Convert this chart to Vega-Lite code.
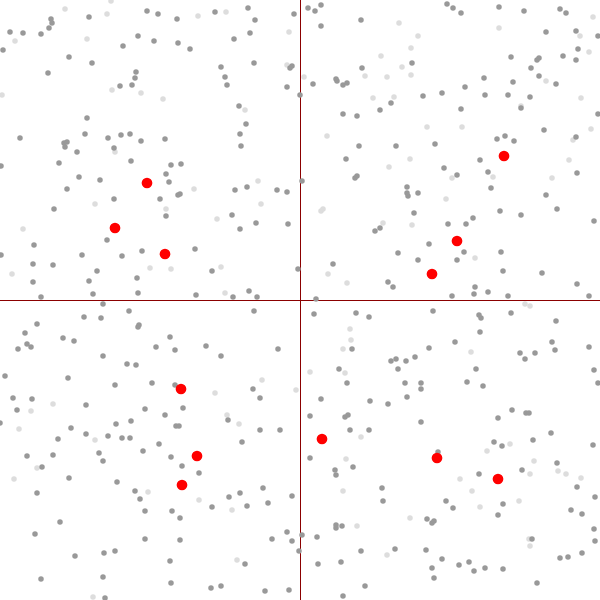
{
"$schema":"https://vega.github.io/schema/vega-lite/v6.json",
"width":600,"height":600,"padding":0,
"autosize":{"type":"none"},
"config":{"view":{"stroke":null}},
"datasets":{
"light":[{"x":111,"y":1},{"x":65,"y":9},{"x":107,"y":14},{"x":198,"y":16},{"x":15,"y":41},{"x":87,"y":39},{"x":112,"y":90},{"x":141,"y":93},{"x":163,"y":99},{"x":2,"y":95},{"x":115,"y":152},{"x":194,"y":189},{"x":226,"y":12},{"x":289,"y":32},{"x":399,"y":23},{"x":381,"y":56},{"x":287,"y":65},{"x":304,"y":77},{"x":365,"y":76},{"x":387,"y":77},{"x":373,"y":98},{"x":394,"y":97},{"x":245,"y":110},{"x":327,"y":136},{"x":389,"y":167},{"x":258,"y":181},{"x":418,"y":36},{"x":411,"y":48},{"x":402,"y":67},{"x":411,"y":75},{"x":499,"y":28},{"x":593,"y":17},{"x":580,"y":36},{"x":589,"y":52},{"x":546,"y":81},{"x":581,"y":98},{"x":521,"y":106},{"x":427,"y":127},{"x":462,"y":127},{"x":591,"y":129},{"x":573,"y":140},{"x":410,"y":159},{"x":569,"y":160},{"x":452,"y":178},{"x":493,"y":177},{"x":552,"y":178},{"x":446,"y":199},{"x":95,"y":204},{"x":166,"y":209},{"x":23,"y":229},{"x":12,"y":274},{"x":150,"y":268},{"x":171,"y":269},{"x":261,"y":204},{"x":217,"y":219},{"x":321,"y":211},{"x":323,"y":209},{"x":383,"y":223},{"x":221,"y":267},{"x":328,"y":274},{"x":347,"y":283},{"x":225,"y":293},{"x":350,"y":329},{"x":351,"y":340},{"x":343,"y":349},{"x":310,"y":372},{"x":345,"y":373},{"x":262,"y":380},{"x":215,"y":393},{"x":296,"y":390},{"x":412,"y":225},{"x":475,"y":258},{"x":525,"y":304},{"x":530,"y":306},{"x":471,"y":352},{"x":53,"y":404},{"x":31,"y":411},{"x":19,"y":429},{"x":95,"y":440},{"x":37,"y":468},{"x":14,"y":479},{"x":148,"y":492},{"x":199,"y":500},{"x":93,"y":597},{"x":227,"y":415},{"x":239,"y":424},{"x":361,"y":437},{"x":346,"y":459},{"x":343,"y":491},{"x":232,"y":510},{"x":357,"y":526},{"x":387,"y":555},{"x":237,"y":560},{"x":487,"y":451},{"x":510,"y":444},{"x":534,"y":461},{"x":530,"y":474},{"x":558,"y":471},{"x":566,"y":474},{"x":581,"y":478},{"x":460,"y":479},{"x":472,"y":491},{"x":480,"y":507},{"x":519,"y":501},{"x":410,"y":518},{"x":529,"y":539},{"x":530,"y":546}],
"dark":[{"x":51,"y":19},{"x":52,"y":23},{"x":49,"y":28},{"x":89,"y":17},{"x":147,"y":11},{"x":158,"y":14},{"x":177,"y":19},{"x":10,"y":32},{"x":23,"y":33},{"x":41,"y":34},{"x":138,"y":36},{"x":154,"y":41},{"x":178,"y":43},{"x":3,"y":50},{"x":123,"y":46},{"x":190,"y":49},{"x":69,"y":57},{"x":92,"y":63},{"x":48,"y":73},{"x":136,"y":72},{"x":135,"y":78},{"x":120,"y":86},{"x":132,"y":85},{"x":87,"y":118},{"x":20,"y":138},{"x":85,"y":134},{"x":108,"y":138},{"x":121,"y":135},{"x":130,"y":134},{"x":141,"y":141},{"x":165,"y":139},{"x":64,"y":143},{"x":67,"y":142},{"x":65,"y":147},{"x":114,"y":148},{"x":77,"y":152},{"x":1,"y":166},{"x":59,"y":163},{"x":131,"y":161},{"x":171,"y":165},{"x":181,"y":164},{"x":166,"y":174},{"x":79,"y":177},{"x":100,"y":180},{"x":169,"y":182},{"x":67,"y":189},{"x":178,"y":195},{"x":180,"y":194},{"x":160,"y":199},{"x":114,"y":199},
{"x":215,"y":12},{"x":248,"y":8},{"x":255,"y":20},{"x":294,"y":14},{"x":308,"y":8},{"x":315,"y":11},{"x":321,"y":5},{"x":321,"y":26},{"x":361,"y":20},{"x":250,"y":33},{"x":234,"y":39},{"x":254,"y":63},{"x":221,"y":67},{"x":290,"y":68},{"x":292,"y":66},{"x":362,"y":68},{"x":225,"y":77},{"x":227,"y":85},{"x":287,"y":87},{"x":313,"y":84},{"x":336,"y":79},{"x":337,"y":81},{"x":343,"y":85},{"x":347,"y":83},{"x":300,"y":95},{"x":239,"y":106},{"x":380,"y":110},{"x":391,"y":103},{"x":343,"y":114},{"x":357,"y":116},{"x":246,"y":124},{"x":240,"y":134},{"x":241,"y":146},{"x":359,"y":146},{"x":396,"y":146},{"x":346,"y":159},{"x":355,"y":178},{"x":357,"y":176},{"x":302,"y":181},{"x":235,"y":190},{"x":247,"y":187},{"x":277,"y":190},{"x":287,"y":192},
{"x":447,"y":4},{"x":453,"y":8},{"x":461,"y":13},{"x":499,"y":7},{"x":524,"y":11},{"x":560,"y":9},{"x":566,"y":13},{"x":546,"y":32},{"x":576,"y":31},{"x":598,"y":36},{"x":578,"y":49},{"x":412,"y":63},{"x":511,"y":57},{"x":537,"y":60},{"x":539,"y":58},{"x":563,"y":56},{"x":576,"y":60},{"x":531,"y":68},{"x":484,"y":78},{"x":539,"y":76},{"x":513,"y":82},{"x":556,"y":84},{"x":465,"y":87},{"x":423,"y":96},{"x":442,"y":93},{"x":485,"y":95},{"x":508,"y":95},{"x":530,"y":97},{"x":461,"y":109},{"x":521,"y":108},{"x":598,"y":114},{"x":544,"y":130},{"x":497,"y":139},{"x":505,"y":136},{"x":514,"y":141},{"x":576,"y":137},{"x":435,"y":144},{"x":480,"y":160},{"x":444,"y":168},{"x":457,"y":175},{"x":488,"y":172},{"x":577,"y":173},{"x":491,"y":188},{"x":407,"y":187},{"x":407,"y":193},{"x":408,"y":196},{"x":418,"y":193},{"x":546,"y":195},
{"x":54,"y":209},{"x":166,"y":216},{"x":34,"y":245},{"x":1,"y":255},{"x":33,"y":264},{"x":53,"y":265},{"x":82,"y":255},{"x":107,"y":240},{"x":122,"y":256},{"x":142,"y":251},{"x":195,"y":249},{"x":97,"y":271},{"x":89,"y":281},{"x":137,"y":278},{"x":33,"y":282},{"x":93,"y":294},{"x":138,"y":293},{"x":41,"y":297},{"x":196,"y":295},{"x":103,"y":304},{"x":129,"y":311},{"x":84,"y":317},{"x":101,"y":318},{"x":37,"y":324},{"x":138,"y":327},{"x":139,"y":325},{"x":25,"y":333},{"x":27,"y":344},{"x":31,"y":347},{"x":18,"y":349},{"x":63,"y":338},{"x":74,"y":341},{"x":170,"y":337},{"x":156,"y":347},{"x":175,"y":350},{"x":103,"y":356},{"x":127,"y":364},{"x":136,"y":365},{"x":5,"y":376},{"x":68,"y":378},{"x":115,"y":385},{"x":152,"y":383},{"x":175,"y":385},{"x":13,"y":398},{"x":32,"y":399},
{"x":232,"y":215},{"x":256,"y":223},{"x":240,"y":229},{"x":288,"y":224},{"x":375,"y":231},{"x":380,"y":228},{"x":398,"y":253},{"x":333,"y":264},{"x":212,"y":271},{"x":298,"y":269},{"x":388,"y":282},{"x":393,"y":287},{"x":249,"y":291},{"x":233,"y":297},{"x":257,"y":297},{"x":316,"y":299},{"x":254,"y":311},{"x":314,"y":314},{"x":356,"y":313},{"x":369,"y":317},{"x":206,"y":346},{"x":278,"y":349},{"x":221,"y":356},{"x":352,"y":349},{"x":391,"y":361},{"x":396,"y":359},{"x":398,"y":369},{"x":339,"y":369},{"x":347,"y":383},{"x":253,"y":389},{"x":260,"y":398},{"x":321,"y":399},{"x":370,"y":401},
{"x":414,"y":213},{"x":448,"y":224},{"x":466,"y":224},{"x":473,"y":218},{"x":500,"y":211},{"x":521,"y":215},{"x":557,"y":209},{"x":594,"y":221},{"x":429,"y":244},{"x":418,"y":260},{"x":457,"y":260},{"x":464,"y":252},{"x":501,"y":252},{"x":503,"y":271},{"x":542,"y":273},{"x":577,"y":284},{"x":475,"y":287},{"x":474,"y":294},{"x":488,"y":292},{"x":452,"y":296},{"x":508,"y":296},{"x":589,"y":296},{"x":433,"y":311},{"x":479,"y":315},{"x":481,"y":318},{"x":511,"y":313},{"x":556,"y":321},{"x":480,"y":332},{"x":455,"y":342},{"x":429,"y":348},{"x":552,"y":342},{"x":555,"y":350},{"x":589,"y":347},{"x":520,"y":353},{"x":525,"y":359},{"x":535,"y":353},{"x":415,"y":357},{"x":406,"y":361},{"x":476,"y":369},{"x":594,"y":370},{"x":405,"y":383},{"x":421,"y":383},{"x":421,"y":389},{"x":467,"y":382},{"x":483,"y":386},{"x":598,"y":383},{"x":407,"y":397},
{"x":17,"y":410},{"x":86,"y":405},{"x":145,"y":409},{"x":165,"y":415},{"x":183,"y":408},{"x":0,"y":423},{"x":71,"y":428},{"x":116,"y":424},{"x":131,"y":421},{"x":176,"y":426},{"x":179,"y":426},{"x":58,"y":439},{"x":86,"y":434},{"x":108,"y":436},{"x":122,"y":438},{"x":130,"y":438},{"x":159,"y":444},{"x":143,"y":451},{"x":27,"y":456},{"x":53,"y":455},{"x":99,"y":453},{"x":103,"y":461},{"x":171,"y":457},{"x":42,"y":467},{"x":182,"y":466},{"x":199,"y":473},{"x":69,"y":478},{"x":117,"y":482},{"x":37,"y":493},{"x":135,"y":491},{"x":140,"y":499},{"x":145,"y":511},{"x":172,"y":511},{"x":180,"y":518},{"x":60,"y":522},{"x":35,"y":534},{"x":145,"y":539},{"x":180,"y":540},{"x":75,"y":556},{"x":104,"y":553},{"x":115,"y":551},{"x":170,"y":561},{"x":41,"y":579},{"x":103,"y":577},{"x":171,"y":583},{"x":105,"y":598},
{"x":388,"y":404},{"x":228,"y":420},{"x":310,"y":416},{"x":345,"y":417},{"x":348,"y":415},{"x":260,"y":430},{"x":280,"y":430},{"x":350,"y":430},{"x":369,"y":430},{"x":242,"y":442},{"x":310,"y":458},{"x":335,"y":470},{"x":336,"y":475},{"x":353,"y":467},{"x":263,"y":488},{"x":240,"y":493},{"x":229,"y":497},{"x":292,"y":496},{"x":382,"y":488},{"x":383,"y":501},{"x":212,"y":507},{"x":247,"y":506},{"x":268,"y":503},{"x":336,"y":525},{"x":336,"y":528},{"x":342,"y":526},{"x":287,"y":532},{"x":302,"y":535},{"x":317,"y":537},{"x":272,"y":539},{"x":292,"y":541},{"x":299,"y":551},{"x":361,"y":551},{"x":395,"y":549},{"x":245,"y":564},{"x":318,"y":564},{"x":341,"y":562},{"x":211,"y":588},{"x":221,"y":586},{"x":265,"y":591},{"x":289,"y":590},{"x":365,"y":586},{"x":343,"y":596},
{"x":421,"y":422},{"x":498,"y":418},{"x":512,"y":410},{"x":526,"y":413},{"x":529,"y":413},{"x":551,"y":433},{"x":593,"y":445},{"x":494,"y":442},{"x":502,"y":446},{"x":533,"y":440},{"x":438,"y":452},{"x":557,"y":463},{"x":522,"y":470},{"x":479,"y":474},{"x":577,"y":487},{"x":595,"y":497},{"x":446,"y":501},{"x":453,"y":508},{"x":503,"y":504},{"x":498,"y":515},{"x":571,"y":510},{"x":582,"y":514},{"x":427,"y":519},{"x":432,"y":523},{"x":434,"y":521},{"x":594,"y":529},{"x":595,"y":541},{"x":532,"y":539},{"x":426,"y":550},{"x":442,"y":559},{"x":582,"y":553},{"x":560,"y":558},{"x":568,"y":557},{"x":459,"y":565},{"x":469,"y":562},{"x":474,"y":571},{"x":485,"y":568},{"x":503,"y":569},{"x":432,"y":568},{"x":434,"y":578},{"x":537,"y":583}],
"red":[{"x":147,"y":183},{"x":504,"y":156},{"x":115,"y":228},{"x":165,"y":254},{"x":181,"y":389},{"x":457,"y":241},{"x":432,"y":274},{"x":197,"y":456},{"x":182,"y":485},{"x":322,"y":439},{"x":437,"y":458},{"x":498,"y":479}],
"cross":[{"v":300}]
},
"layer":[
{"data":{"name":"cross"},"mark":{"type":"rule","color":"#8b0000","strokeWidth":1,"xOffset":0.5},"encoding":{"x":{"field":"v","type":"quantitative","scale":{"domain":[0,600],"nice":false,"zero":false},"axis":null}}},
{"data":{"name":"cross"},"mark":{"type":"rule","color":"#8b0000","strokeWidth":1,"yOffset":0.5},"encoding":{"y":{"field":"v","type":"quantitative","scale":{"domain":[0,600],"nice":false,"zero":false,"reverse":true},"axis":null}}},
{"data":{"name":"light"},"mark":{"type":"circle","color":"#dddddd","opacity":1,"size":30},"encoding":{"x":{"field":"x","type":"quantitative"},"y":{"field":"y","type":"quantitative"}}},
{"data":{"name":"dark"},"mark":{"type":"circle","color":"#999999","opacity":1,"size":30},"encoding":{"x":{"field":"x","type":"quantitative"},"y":{"field":"y","type":"quantitative"}}},
{"data":{"name":"red"},"mark":{"type":"circle","color":"#ff0000","opacity":1,"size":115},"encoding":{"x":{"field":"x","type":"quantitative"},"y":{"field":"y","type":"quantitative"}}}
]
}
